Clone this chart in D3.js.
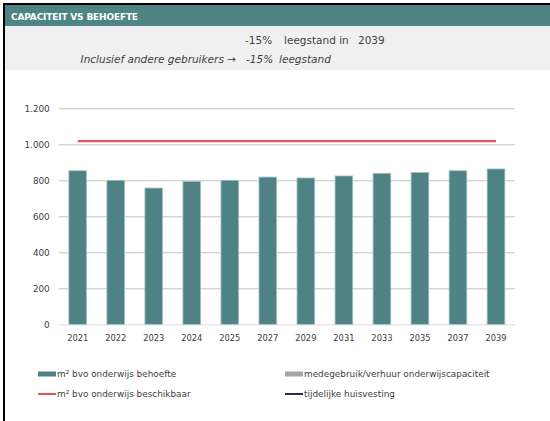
<!DOCTYPE html>
<html>
<head>
<meta charset="utf-8">
<title>Capaciteit vs behoefte</title>
<script src="https://cdn.jsdelivr.net/npm/d3@7"></script>
<style>
body { margin: 0; background: #fff; }
svg text { font-family: "DejaVu Sans", sans-serif; }
</style>
</head>
<body>
<script>

// data
var years = ['2021', '2022', '2023', '2024', '2025', '2027',
             '2029', '2031', '2033', '2035', '2037', '2039']
var behoefte = [853, 800, 757, 794, 800, 818, 813, 824, 839, 844, 853, 863]
var beschikbaar = [1018, 1018, 1018, 1018, 1018, 1018, 1018, 1018, 1018, 1018, 1018, 1018]
var yTicks = [0, 200, 400, 600, 800, 1000, 1200]
var legendNames = ['m² bvo onderwijs behoefte', 'medegebruik/verhuur onderwijscapaciteit',
                   'm² bvo onderwijs beschikbaar', 'tijdelijke huisvesting']
var legendColors = ['#4e8284', '#a6a6a6', '#e85454', '#2e2b45']
var legendKinds = ['box', 'box', 'line', 'line']

var W = 550, H = 421
var svg = d3.select("body").append("svg")
  .attr("width", W)
  .attr("height", H)

// outer frame (top and left edge)
svg.append("line").attr("x1", 3).attr("x2", W).attr("y1", 4).attr("y2", 4)
  .style("stroke", "#000").style("stroke-width", 2)
svg.append("line").attr("x1", 4).attr("x2", 4).attr("y1", 3).attr("y2", H)
  .style("stroke", "#000").style("stroke-width", 2)

// header bands
svg.append("rect").attr("x", 5).attr("y", 5).attr("width", W - 5).attr("height", 21)
  .style("fill", "#4e8484")
svg.append("rect").attr("x", 5).attr("y", 26).attr("width", W - 5).attr("height", 44)
  .style("fill", "#f0f0f0")

svg.append("text")
  .attr("x", 11).attr("y", 19.5)
  .style("font-size", "9px").style("font-weight", "bold").style("fill", "#fff")
  .attr("textLength", 127)
  .text("CAPACITEIT VS BEHOEFTE")

var sub = svg.append("g").style("font-size", "10.5px").style("fill", "#404040")
sub.append("text").attr("x", 245).attr("y", 44).text("-15%")
sub.append("text").attr("x", 284).attr("y", 44).text("leegstand in")
sub.append("text").attr("x", 358).attr("y", 44).text("2039")
sub.append("text").attr("x", 236).attr("y", 63).attr("text-anchor", "end")
  .style("font-style", "italic").text("Inclusief andere gebruikers →")
sub.append("text").attr("x", 246).attr("y", 63).style("font-style", "italic").text("-15%")
sub.append("text").attr("x", 279).attr("y", 63).style("font-style", "italic").text("leegstand")

// scales
var left = 58.7, right = 515
var x = d3.scaleBand()
  .domain(years)
  .range([left, right])
  .paddingInner(0.535)
  .paddingOuter(0.2675)

var y = d3.scaleLinear()
  .domain([0, 1200])
  .range([324.3, 108.3])

// gridlines + y labels
var yAxis = svg.append("g")
  .attr("transform", "translate(" + left + ",0)")
  .call(d3.axisLeft(y).tickValues(yTicks).tickSize(-(right - left)).tickPadding(9)
    .tickFormat(function(d) { return d3.format(",")(d).replace(",", "."); }))
yAxis.select(".domain").remove()
yAxis.selectAll(".tick line")
  .style("stroke", function(d) { return d === 0 ? "#d9d9e6" : "#c4c4c4"; })
yAxis.selectAll(".tick text")
  .style("font-size", "8.8px").style("fill", "#404040")
  .style("font-family", "DejaVu Sans, sans-serif")

// bars
svg.append("g").selectAll("rect")
  .data(years)
  .enter()
  .append("rect")
    .attr("x", function(d) { return x(d) })
    .attr("y", function(d, i) { return y(behoefte[i]) })
    .attr("width", x.bandwidth())
    .attr("height", function(d, i) { return y(0) - y(behoefte[i]) })
    .style("fill", "#4e8284")
    .style("stroke", "#a3c3c3")
    .style("stroke-width", 0.8)

// available capacity line
var line = d3.line()
  .x(function(d, i) { return x(years[i]) + x.bandwidth() / 2 })
  .y(function(d) { return y(d) })
svg.append("path")
  .datum(beschikbaar)
  .attr("d", line)
  .style("fill", "none")
  .style("stroke", "#e85454")
  .style("stroke-width", 2.2)

// x labels
var xAxis = svg.append("g")
  .attr("transform", "translate(0," + y(0) + ")")
  .call(d3.axisBottom(x).tickSize(0).tickPadding(11))
xAxis.select(".domain").remove()
xAxis.selectAll(".tick text")
  .style("font-size", "8.3px").style("fill", "#404040")
  .style("font-family", "DejaVu Sans, sans-serif")

// legend
var legX = [38, 285], legY = [374, 394]
var leg = svg.append("g").selectAll("g")
  .data(legendNames)
  .enter()
  .append("g")
    .attr("transform", function(d, i) {
      return "translate(" + legX[i % 2] + "," + legY[Math.floor(i / 2)] + ")" })
leg.each(function(d, i) {
  var g = d3.select(this)
  if (legendKinds[i] === "box") {
    g.append("rect").attr("x", 0).attr("y", -2.5).attr("width", 18).attr("height", 5)
      .style("fill", legendColors[i])
  } else {
    g.append("line").attr("x1", 0).attr("x2", 18).attr("y1", 0).attr("y2", 0)
      .style("stroke", legendColors[i]).style("stroke-width", 2)
  }
  g.append("text").attr("x", 19).attr("y", 3.2)
    .style("font-size", "8.9px").style("fill", "#404040")
    .text(d)
})

</script>
</body>
</html>
